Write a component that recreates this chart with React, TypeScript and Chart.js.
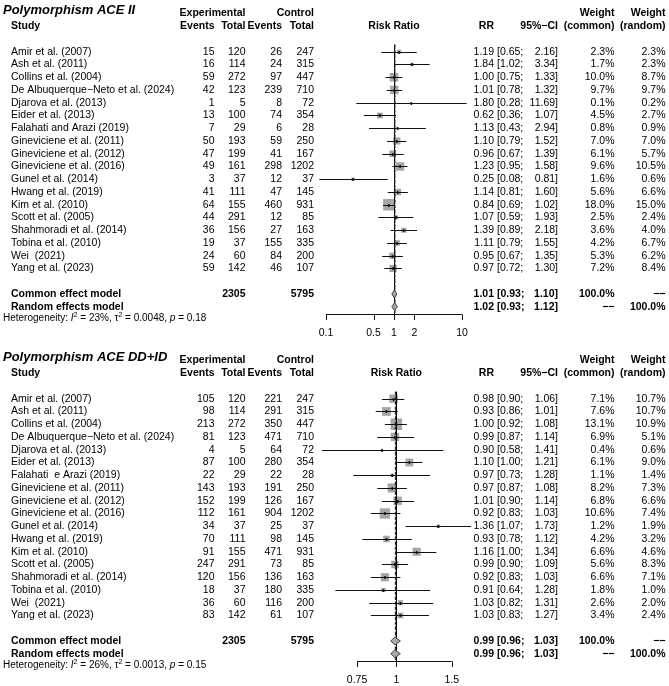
import React, { useEffect, useRef } from "react";
import { Chart, registerables } from "chart.js";

Chart.register(...registerables);

const FONT = '"Liberation Sans", Arial, Helvetica, sans-serif';

// ---------- Panel 1: Polymorphism ACE II ----------
const title1 = "Polymorphism ACE II";
const studies1 = [
  "Amir et al. (2007)", "Ash et al. (2011)", "Collins et al. (2004)",
  "De Albuquerque\u2212Neto et al. (2024)", "Djarova et al. (2013)", "Eider et al. (2013)",
  "Falahati and Arazi (2019)", "Gineviciene et al. (2011)", "Gineviciene et al. (2012)",
  "Gineviciene et al. (2016)", "Gunel et al. (2014)", "Hwang et al. (2019)",
  "Kim et al. (2010)", "Scott et al. (2005)", "Shahmoradi et al. (2014)",
  "Tobina et al. (2010)", "Wei  (2021)", "Yang et al. (2023)",
];
const expEvents1 = [15, 16, 59, 42, 1, 13, 7, 50, 47, 49, 3, 41, 64, 44, 36, 19, 24, 59];
const expTotal1 = [120, 114, 272, 123, 5, 100, 29, 193, 199, 161, 37, 111, 155, 291, 156, 37, 60, 142];
const ctrlEvents1 = [26, 24, 97, 239, 8, 74, 6, 59, 41, 298, 12, 47, 460, 12, 27, 155, 84, 46];
const ctrlTotal1 = [247, 315, 447, 710, 72, 354, 28, 250, 167, 1202, 37, 145, 931, 85, 163, 335, 200, 107];
const rr1 = [1.19, 1.84, 1.0, 1.01, 1.8, 0.62, 1.13, 1.1, 0.96, 1.23, 0.25, 1.14, 0.84, 1.07, 1.39, 1.11, 0.95, 0.97];
const lo1 = [0.65, 1.02, 0.75, 0.78, 0.28, 0.36, 0.43, 0.79, 0.67, 0.95, 0.08, 0.81, 0.69, 0.59, 0.89, 0.79, 0.67, 0.72];
const hi1 = [2.16, 3.34, 1.33, 1.32, 11.69, 1.07, 2.94, 1.52, 1.39, 1.58, 0.81, 1.6, 1.02, 1.93, 2.18, 1.55, 1.35, 1.3];
const wCommon1 = [2.3, 1.7, 10.0, 9.7, 0.1, 4.5, 0.8, 7.0, 6.1, 9.6, 1.6, 5.6, 18.0, 2.5, 3.6, 4.2, 5.3, 7.2];
const wRandom1 = [2.3, 2.3, 8.7, 9.7, 0.2, 2.7, 0.9, 7.0, 5.7, 10.5, 0.6, 6.6, 15.0, 2.4, 4.0, 6.7, 6.2, 8.4];
const totals1 = [2305, 5795];
const common1 = [1.01, 0.93, 1.1];
const random1 = [1.02, 0.93, 1.12];
const het1 = ["23%", "0.0048", "0.18"];
const ticks1 = [0.1, 0.5, 1, 2, 10];
const tickLabels1 = ["0.1", "0.5", "1", "2", "10"];

// ---------- Panel 2: Polymorphism ACE DD+ID ----------
const title2 = "Polymorphism ACE DD+ID";
const studies2 = [
  "Amir et al. (2007)", "Ash et al. (2011)", "Collins et al. (2004)",
  "De Albuquerque\u2212Neto et al. (2024)", "Djarova et al. (2013)", "Eider et al. (2013)",
  "Falahati  e Arazi (2019)", "Gineviciene et al. (2011)", "Gineviciene et al. (2012)",
  "Gineviciene et al. (2016)", "Gunel et al. (2014)", "Hwang et al. (2019)",
  "Kim et al. (2010)", "Scott et al. (2005)", "Shahmoradi et al. (2014)",
  "Tobina et al. (2010)", "Wei  (2021)", "Yang et al. (2023)",
];
const expEvents2 = [105, 98, 213, 81, 4, 87, 22, 143, 152, 112, 34, 70, 91, 247, 120, 18, 36, 83];
const expTotal2 = [120, 114, 272, 123, 5, 100, 29, 193, 199, 161, 37, 111, 155, 291, 156, 37, 60, 142];
const ctrlEvents2 = [221, 291, 350, 471, 64, 280, 22, 191, 126, 904, 25, 98, 471, 73, 136, 180, 116, 61];
const ctrlTotal2 = [247, 315, 447, 710, 72, 354, 28, 250, 167, 1202, 37, 145, 931, 85, 163, 335, 200, 107];
const rr2 = [0.98, 0.93, 1.0, 0.99, 0.9, 1.1, 0.97, 0.97, 1.01, 0.92, 1.36, 0.93, 1.16, 0.99, 0.92, 0.91, 1.03, 1.03];
const lo2 = [0.9, 0.86, 0.92, 0.87, 0.58, 1.0, 0.73, 0.87, 0.9, 0.83, 1.07, 0.78, 1.0, 0.9, 0.83, 0.64, 0.82, 0.83];
const hi2 = [1.06, 1.01, 1.08, 1.14, 1.41, 1.21, 1.28, 1.08, 1.14, 1.03, 1.73, 1.12, 1.34, 1.09, 1.03, 1.28, 1.31, 1.27];
const wCommon2 = [7.1, 7.6, 13.1, 6.9, 0.4, 6.1, 1.1, 8.2, 6.8, 10.6, 1.2, 4.2, 6.6, 5.6, 6.6, 1.8, 2.6, 3.4];
const wRandom2 = [10.7, 10.7, 10.9, 5.1, 0.6, 9.0, 1.4, 7.3, 6.6, 7.4, 1.9, 3.2, 4.6, 8.3, 7.1, 1.0, 2.0, 2.4];
const totals2 = [2305, 5795];
const common2 = [0.99, 0.96, 1.03];
const random2 = [0.99, 0.96, 1.03];
const het2 = ["26%", "0.0013", "0.15"];
const ticks2 = [0.75, 1, 1.5];
const tickLabels2 = ["0.75", "1", "1.5"];

type Panel = {
  title: string;
  studies: string[];
  expEvents: number[];
  expTotal: number[];
  ctrlEvents: number[];
  ctrlTotal: number[];
  rr: number[];
  lo: number[];
  hi: number[];
  wCommon: number[];
  wRandom: number[];
  totals: number[];
  common: number[];
  random: number[];
  het: string[];
  ticks: number[];
  tickLabels: string[];
  xMin: number;
  xMax: number;
};

const panel1: Panel = {
  title: title1, studies: studies1, expEvents: expEvents1, expTotal: expTotal1,
  ctrlEvents: ctrlEvents1, ctrlTotal: ctrlTotal1, rr: rr1, lo: lo1, hi: hi1,
  wCommon: wCommon1, wRandom: wRandom1, totals: totals1, common: common1, random: random1,
  het: het1, ticks: ticks1, tickLabels: tickLabels1, xMin: 0.0415, xMax: 25.8,
};
const panel2: Panel = {
  title: title2, studies: studies2, expEvents: expEvents2, expTotal: expTotal2,
  ctrlEvents: ctrlEvents2, ctrlTotal: ctrlTotal2, rr: rr2, lo: lo2, hi: hi2,
  wCommon: wCommon2, wRandom: wRandom2, totals: totals2, common: common2, random: random2,
  het: het2, ticks: ticks2, tickLabels: tickLabels2, xMin: 0.494, xMax: 1.985,
};

// column anchors (px)
const COL = {
  study: 11, expEv: 214.5, expTot: 245.5, ctrlEv: 282, ctrlTot: 314,
  rr: 494, ciL: 497, ciR: 558, wc: 614.5, wr: 665.5,
};

const REG = `10.5px ${FONT}`;
const BOLD = `bold 10.5px ${FONT}`;
const DASHES = "\u2212\u2212";

function text(ctx: CanvasRenderingContext2D, s: string, x: number, y: number, align: CanvasTextAlign, font: string) {
  ctx.font = font;
  ctx.textAlign = align;
  ctx.fillText(s, x, y);
}

function vline(ctx: CanvasRenderingContext2D, x: number, y0: number, y1: number, color: string, dash: number[], w: number) {
  ctx.save();
  ctx.strokeStyle = color;
  ctx.lineWidth = w;
  ctx.setLineDash(dash);
  ctx.beginPath();
  ctx.moveTo(x, y0);
  ctx.lineTo(x, y1);
  ctx.stroke();
  ctx.restore();
}

function forestPlugin(p: Panel) {
  return {
    id: "forest",
    afterDatasetsDraw(chart: any) {
      const { ctx, chartArea, scales } = chart;
      const xs = scales.x;
      const ys = scales.y;
      const n = p.studies.length;
      const rowCommon = n + 1;
      const rowRandom = n + 2;
      const X = (v: number) => xs.getPixelForValue(v);
      const Y = (r: number) => ys.getPixelForValue(r);
      ctx.save();

      // reference lines
      const top = Y(-0.55);
      const bot = chartArea.bottom;
      vline(ctx, Math.round(X(1)) + 0.5, top, bot, "#000", [], 1);
      vline(ctx, X(p.common[0]) + 0.5, top, bot, "#222", [3, 2], 1.2);
      vline(ctx, X(p.random[0]) + 0.5, top, bot, "#333", [1, 2], 1);

      // CI lines and centre marks
      ctx.strokeStyle = "#111";
      ctx.lineWidth = 1;
      for (let i = 0; i < n; i++) {
        const yy = Math.round(Y(i)) + 0.5;
        ctx.beginPath();
        ctx.moveTo(X(p.lo[i]), yy);
        ctx.lineTo(X(p.hi[i]), yy);
        ctx.stroke();
        ctx.fillStyle = "#111";
        ctx.fillRect(X(p.rr[i]) - 0.75, yy - 1.5, 1.5, 3);
      }

      // diamonds
      const diamond = (est: number[], row: number) => {
        const yy = Y(row);
        ctx.beginPath();
        ctx.moveTo(X(est[1]), yy);
        ctx.lineTo(X(est[0]), yy - 4);
        ctx.lineTo(X(est[2]), yy);
        ctx.lineTo(X(est[0]), yy + 4);
        ctx.closePath();
        ctx.fillStyle = "#a6a6a6";
        ctx.fill();
        ctx.strokeStyle = "#444";
        ctx.lineWidth = 1;
        ctx.stroke();
      };
      diamond(p.common, rowCommon);
      diamond(p.random, rowRandom);

      // x axis
      const ay = Math.round(bot) + 0.5;
      ctx.strokeStyle = "#111";
      ctx.beginPath();
      ctx.moveTo(X(p.ticks[0]), ay);
      ctx.lineTo(X(p.ticks[p.ticks.length - 1]), ay);
      p.ticks.forEach((t) => {
        const tx = Math.round(X(t)) + 0.5;
        ctx.moveTo(tx, ay);
        ctx.lineTo(tx, ay + 5.5);
      });
      ctx.stroke();
      ctx.fillStyle = "#000";
      ctx.textBaseline = "middle";
      p.ticks.forEach((t, i) => text(ctx, p.tickLabels[i], X(t), ay + 19, "center", REG));

      // title + headers
      const yH1 = Y(-3);
      const yH2 = Y(-2);
      text(ctx, p.title, 3, yH1 - 3.5, "left", `italic bold 13px ${FONT}`);
      text(ctx, "Experimental", COL.expTot, yH1, "right", BOLD);
      text(ctx, "Control", COL.ctrlTot, yH1, "right", BOLD);
      text(ctx, "Weight", COL.wc, yH1, "right", BOLD);
      text(ctx, "Weight", COL.wr, yH1, "right", BOLD);
      text(ctx, "Study", COL.study, yH2, "left", BOLD);
      text(ctx, "Events", COL.expEv, yH2, "right", BOLD);
      text(ctx, "Total", COL.expTot, yH2, "right", BOLD);
      text(ctx, "Events", COL.ctrlEv, yH2, "right", BOLD);
      text(ctx, "Total", COL.ctrlTot, yH2, "right", BOLD);
      text(ctx, "Risk Ratio", X(1), yH2, "center", BOLD);
      text(ctx, "RR", COL.rr, yH2, "right", BOLD);
      text(ctx, "95%\u2212CI", COL.ciR, yH2, "right", BOLD);
      text(ctx, "(common)", COL.wc, yH2, "right", BOLD);
      text(ctx, "(random)", COL.wr, yH2, "right", BOLD);

      // rows
      for (let i = 0; i < n; i++) {
        const yy = Y(i);
        text(ctx, p.studies[i], COL.study, yy, "left", REG);
        text(ctx, String(p.expEvents[i]), COL.expEv, yy, "right", REG);
        text(ctx, String(p.expTotal[i]), COL.expTot, yy, "right", REG);
        text(ctx, String(p.ctrlEvents[i]), COL.ctrlEv, yy, "right", REG);
        text(ctx, String(p.ctrlTotal[i]), COL.ctrlTot, yy, "right", REG);
        text(ctx, p.rr[i].toFixed(2), COL.rr, yy, "right", REG);
        text(ctx, "[" + p.lo[i].toFixed(2) + ";", COL.ciL, yy, "left", REG);
        text(ctx, p.hi[i].toFixed(2) + "]", COL.ciR, yy, "right", REG);
        text(ctx, p.wCommon[i].toFixed(1) + "%", COL.wc, yy, "right", REG);
        text(ctx, p.wRandom[i].toFixed(1) + "%", COL.wr, yy, "right", REG);
      }

      // summary rows
      const yc = Y(rowCommon);
      text(ctx, "Common effect model", COL.study, yc, "left", BOLD);
      text(ctx, String(p.totals[0]), COL.expTot, yc, "right", BOLD);
      text(ctx, String(p.totals[1]), COL.ctrlTot, yc, "right", BOLD);
      text(ctx, p.common[0].toFixed(2), COL.rr, yc, "right", BOLD);
      text(ctx, "[" + p.common[1].toFixed(2) + ";", COL.ciL, yc, "left", BOLD);
      text(ctx, p.common[2].toFixed(2) + "]", COL.ciR, yc, "right", BOLD);
      text(ctx, "100.0%", COL.wc, yc, "right", BOLD);
      text(ctx, DASHES, COL.wr, yc, "right", BOLD);

      const yr = Y(rowRandom);
      text(ctx, "Random effects model", COL.study, yr, "left", BOLD);
      text(ctx, p.random[0].toFixed(2), COL.rr, yr, "right", BOLD);
      text(ctx, "[" + p.random[1].toFixed(2) + ";", COL.ciL, yr, "left", BOLD);
      text(ctx, p.random[2].toFixed(2) + "]", COL.ciR, yr, "right", BOLD);
      text(ctx, DASHES, COL.wc, yr, "right", BOLD);
      text(ctx, "100.0%", COL.wr, yr, "right", BOLD);

      // heterogeneity
      const yh = yr + 11.5;
      const base = `10px ${FONT}`;
      const ital = `italic 10px ${FONT}`;
      const sup = `7px ${FONT}`;
      const parts: [string, string, number][] = [
        ["Heterogeneity: ", base, 0], ["I", ital, 0], ["2", sup, -3.5],
        [" = " + p.het[0] + ", ", base, 0], ["\u03c4", base, 0], ["2", sup, -3.5],
        [" = " + p.het[1] + ", ", base, 0], ["p", ital, 0], [" = " + p.het[2], base, 0],
      ];
      let cx = 3;
      ctx.textAlign = "left";
      for (const [s, f, dy] of parts) {
        ctx.font = f;
        ctx.fillText(s, cx, yh + dy);
        cx += ctx.measureText(s).width;
      }
      ctx.restore();
    },
  };
}

function ForestChart({ panel, height }: { panel: Panel; height: number }) {
  const ref = useRef<HTMLCanvasElement>(null);
  useEffect(() => {
    const canvas = ref.current;
    if (!canvas) return;
    const maxW = Math.max(...panel.wCommon);
    const radii = panel.wCommon.map((w) => (11.5 * Math.sqrt(w / maxW)) / Math.SQRT2);
    const chart = new Chart(canvas, {
      type: "scatter",
      data: {
        datasets: [
          {
            data: panel.rr.map((v, i) => ({ x: v, y: i })),
            pointStyle: "rect",
            pointRadius: radii,
            pointHoverRadius: radii,
            backgroundColor: "#a6a6a6",
            borderWidth: 0,
          },
        ],
      },
      options: {
        responsive: false,
        animation: false,
        events: [],
        layout: { padding: { left: 300, right: 179, top: 40, bottom: height - 314 } },
        plugins: { legend: { display: false }, tooltip: { enabled: false } },
        scales: {
          x: { type: "logarithmic", min: panel.xMin, max: panel.xMax, bounds: "data", display: false },
          y: { type: "linear", reverse: true, min: -0.92, max: 20.57, display: false },
        },
      } as any,
      plugins: [forestPlugin(panel)],
    });
    return () => chart.destroy();
  }, [panel, height]);
  return <canvas ref={ref} width={669} height={height} style={{ display: "block" }} />;
}

export default function App() {
  useEffect(() => {
    document.body.style.margin = "0";
  }, []);
  return (
    <div style={{ width: 669, background: "#fff" }}>
      <ForestChart panel={panel1} height={347} />
      <ForestChart panel={panel2} height={339} />
    </div>
  );
}
